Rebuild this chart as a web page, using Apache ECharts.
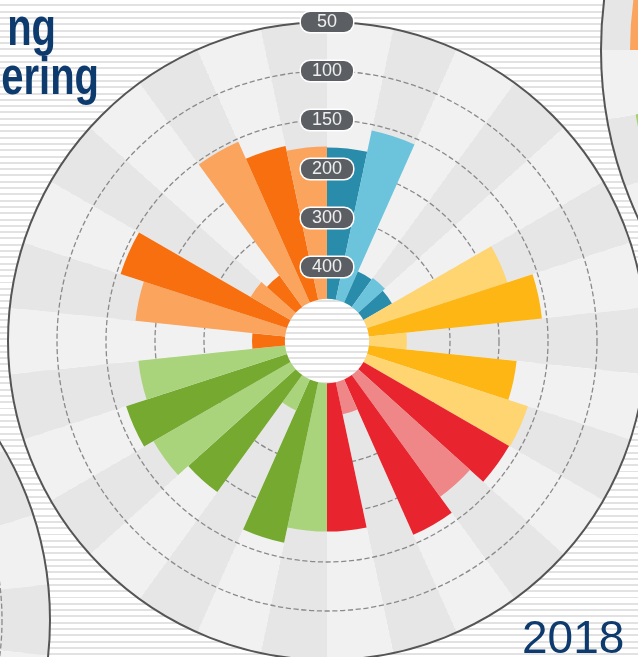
<!DOCTYPE html>
<html>
<head>
<meta charset="utf-8">
<script src="https://cdn.jsdelivr.net/npm/echarts@6/dist/echarts.min.js"></script>
<style>
  html, body { margin: 0; padding: 0; }
  body {
    background: repeating-linear-gradient(to bottom, #ffffff 0px, #ffffff 4.3px, #e2e2e2 4.3px, #e2e2e2 6.3px);
  }
  #main { width: 638px; height: 657px; }
</style>
</head>
<body>
<div id="main"></div>
<script>
// one wedge per entry, clockwise from 12 o'clock
var categories = ['B01', 'B02', 'B03', 'B04', 'B05', 'Y01', 'Y02', 'Y03', 'Y04', 'Y05',
                  'R01', 'R02', 'R03', 'R04', 'R05', 'G01', 'G02', 'G03', 'G04', 'G05',
                  'G06', 'G07', 'O01', 'O02', 'O03', 'O04', 'O05', 'O06', 'O07', 'O08'];
var groups = ['blue', 'blue', 'blue', 'blue', 'blue',
              'yellow', 'yellow', 'yellow', 'yellow', 'yellow',
              'red', 'red', 'red', 'red', 'red',
              'green', 'green', 'green', 'green', 'green', 'green', 'green',
              'orange', 'orange', 'orange', 'orange', 'orange', 'orange', 'orange', 'orange'];
var ranks = [178, 156, 396, 392, 398, 182, 155, 388, 181, 160,
             161, 179, 159, 398, 181, 181, 165, 396, 185, 171,
             160, 182, 398, 179, 154, 371, 386, 153, 172, 177];
// rank labels on the position scale 0..6 (outer ring = 50)
var rankTicks = ['', '400', '300', '200', '150', '100', '50'];

// neighbouring charts, only partly visible
var rightCats = [];
for (var n = 0; n < 36; n++) rightCats.push('N' + n);
var rightValues = ['-', '-', '-', '-', '-', '-', '-', '-', '-', '-', '-', '-',
                   '-', '-', '-', '-', '-', '-', '-', '-', '-', '-', '-', '-',
                   '-', 371, '-', 371, '-', '-', '-', '-', '-', '-', '-', '-'];
var rightColors = {25: '#a6d171', 27: '#fba45d'};
var leftCats = categories.slice();

var palette = {
  blue: ['#2a8cab', '#6cc4dc'],
  yellow: ['#fdb614', '#fed570'],
  red: ['#e8252e', '#ef8688'],
  green: ['#75a930', '#aad47b'],
  orange: ['#f76f0e', '#fba45d']
};
var HOLE = 0.35;

function rankToPos(rank) {
  if (rank <= 200) return 3 + (200 - rank) / 50;
  return 3 - (rank - 200) / 100;
}

var center = [327, 341];
var ring = [25, 319];
var clear = 'rgba(0,0,0,0)';
var dash = '#8a8a8a';

function bgData(list, top) {
  return list.map(function (c, i) {
    return { value: top, itemStyle: { color: i % 2 ? '#e6e6e6' : '#f1f1f1' } };
  });
}
function hiddenAngle(idx, cats) {
  return {
    polarIndex: idx, type: 'category', data: cats, startAngle: 90, z: 5,
    axisLine: { show: false }, axisTick: { show: false },
    axisLabel: { show: false }, splitLine: { show: false }
  };
}
function ringAngle(idx, cats) {
  var a = hiddenAngle(idx, cats);
  a.axisLine = { show: true, lineStyle: { color: '#555555', width: 2 } };
  return a;
}
var barBase = { type: 'bar', coordinateSystem: 'polar', barGap: '-100%', barCategoryGap: '0%', silent: true };
function bar(extra) { return Object.assign({}, barBase, extra); }

var chart = echarts.init(document.getElementById('main'));

var option = {
  animation: false,
  backgroundColor: 'transparent',
  polar: [
    { center: center, radius: ring },
    { center: center, radius: ring },
    { center: center, radius: [0, 319] },
    { center: [1001, 50], radius: [0, 400] },
    { center: [-290, 620], radius: [0, 340] }
  ],
  angleAxis: [
    hiddenAngle(0, categories),
    hiddenAngle(1, categories),
    ringAngle(2, categories),
    ringAngle(3, rightCats),
    ringAngle(4, leftCats)
  ],
  radiusAxis: [
    {
      polarIndex: 0, min: 0, max: 6, interval: 1, z: 1,
      axisLine: { show: false }, axisTick: { show: false }, axisLabel: { show: false },
      splitLine: { show: true, lineStyle: { type: 'dashed', width: 1.3, color: [clear, clear, dash, dash, dash, dash, clear] } }
    },
    {
      polarIndex: 1, min: 0, max: 6, interval: 1, z: 20,
      axisLine: { show: false }, axisTick: { show: false }, splitLine: { show: false },
      axisLabel: {
        showMinLabel: false,
        formatter: function (v) { return rankTicks[v] || ''; },
        margin: 0, align: 'center', verticalAlign: 'middle',
        color: '#efefef', fontSize: 18, fontFamily: 'Liberation Sans',
        backgroundColor: '#5b5f63', borderColor: '#ffffff', borderWidth: 1.5,
        borderRadius: 9, padding: [1, 10], width: 32
      }
    },
    { polarIndex: 2, min: 0, max: 1, show: false },
    { polarIndex: 3, min: 0, max: 400, show: false },
    {
      polarIndex: 4, min: 0, max: 340, interval: 73, z: 1,
      axisLine: { show: false }, axisTick: { show: false }, axisLabel: { show: false },
      splitLine: { show: true, lineStyle: { type: 'dashed', width: 1.3, color: [clear, clear, clear, clear, dash, clear] } }
    }
  ],
  series: [
    bar({ polarIndex: 0, stack: 'bg', z: 0, itemStyle: { color: clear },
          data: categories.map(function () { return HOLE; }) }),
    bar({ polarIndex: 0, stack: 'bg', z: 0, data: bgData(categories, 6 - HOLE) }),
    bar({ polarIndex: 0, stack: 'rank', z: 2, itemStyle: { color: clear },
          data: categories.map(function () { return HOLE; }) }),
    bar({ polarIndex: 0, stack: 'rank', z: 2, name: 'rank',
          data: ranks.map(function (r, i) {
            return { value: rankToPos(r) - HOLE, itemStyle: { color: palette[groups[i]][i % 2] } };
          }) }),
    bar({ polarIndex: 3, z: 0, data: bgData(rightCats, 400) }),
    bar({ polarIndex: 3, z: 2,
          data: rightValues.map(function (v, i) {
            return { value: v, itemStyle: { color: rightColors[i] || clear } };
          }) }),
    bar({ polarIndex: 4, z: 0, data: bgData(leftCats, 340) })
  ],
  graphic: [
    { type: 'text', x: 56, y: 31, scaleY: 1.3, z: 50,
      style: { text: 'ng', font: 'bold 40px "Liberation Sans", Arial', fill: '#0e3b6e', align: 'right', verticalAlign: 'middle' } },
    { type: 'text', x: 99, y: 80, scaleY: 1.3, z: 50,
      style: { text: 'ering', font: 'bold 40px "Liberation Sans", Arial', fill: '#0e3b6e', align: 'right', verticalAlign: 'middle' } },
    { type: 'text', x: 522, y: 640, z: 50,
      style: { text: '2018', font: '46px "Liberation Sans", Arial', fill: '#0e3b6e', align: 'left', verticalAlign: 'middle' } }
  ]
};

chart.setOption(option);
</script>
</body>
</html>
